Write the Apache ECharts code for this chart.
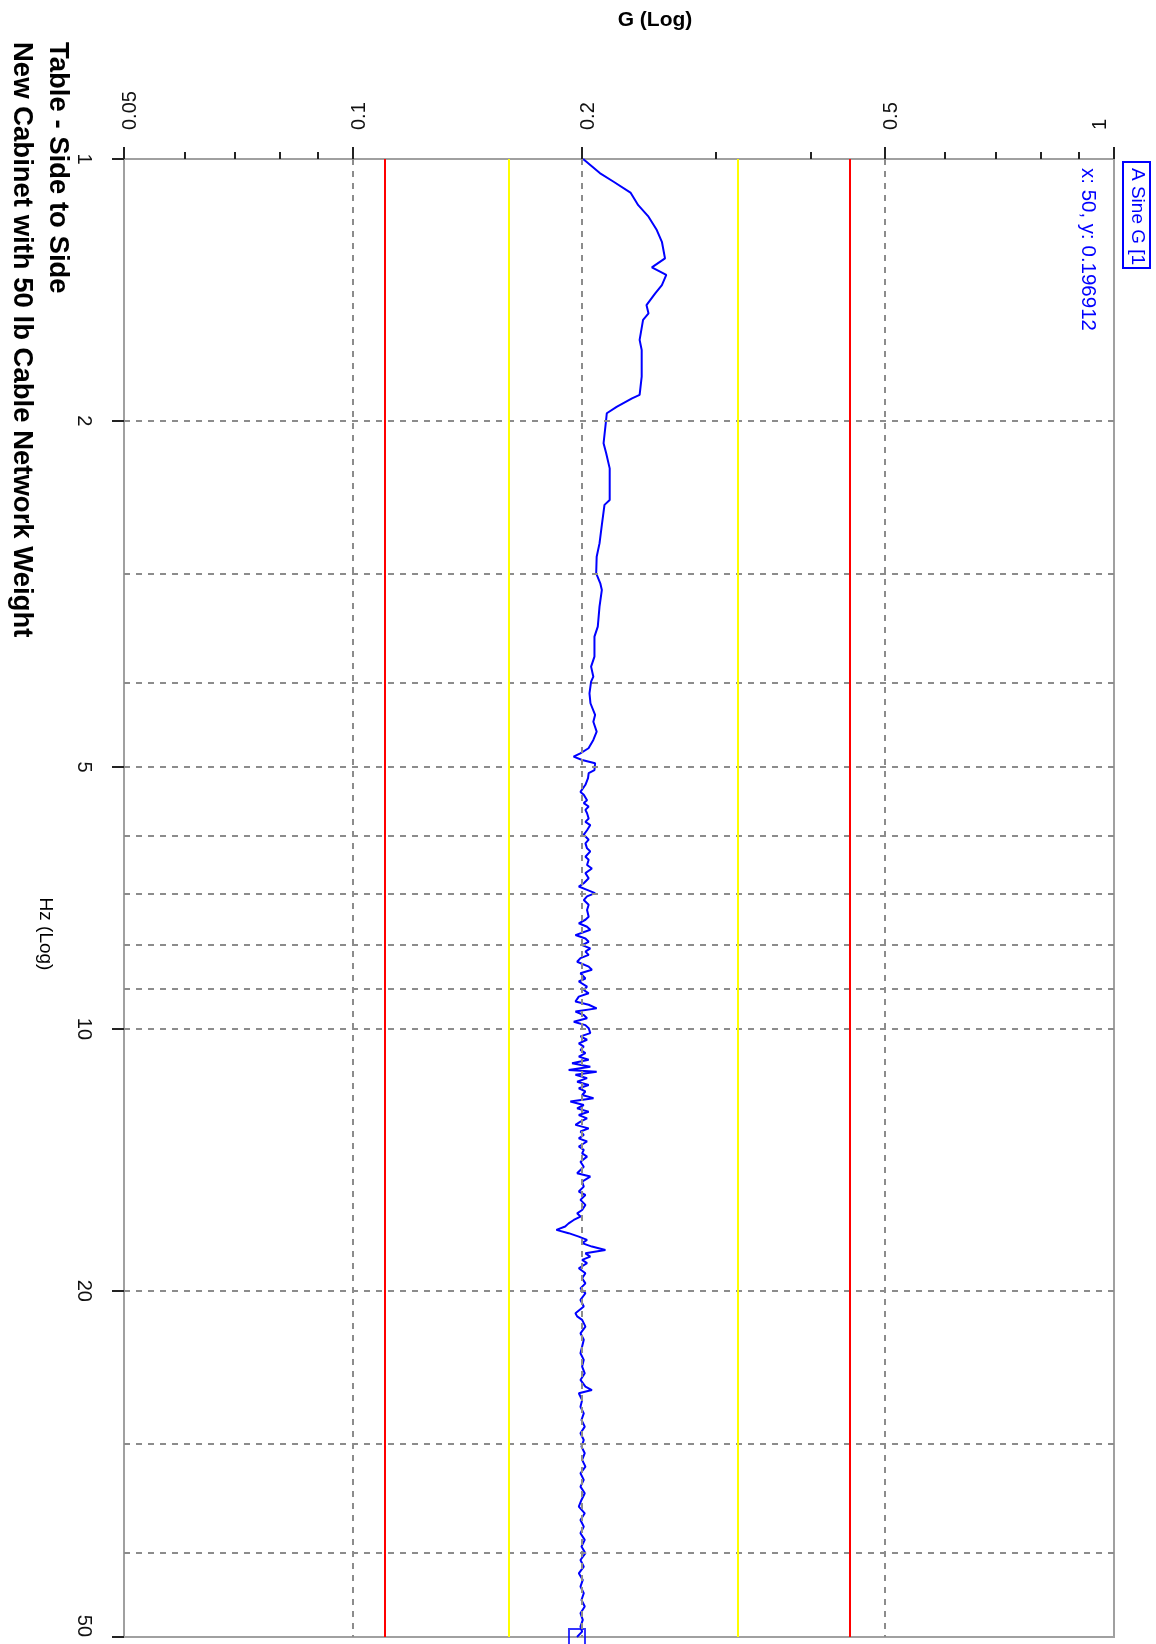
<!DOCTYPE html>
<html>
<head>
<meta charset="utf-8">
<script src="https://cdn.jsdelivr.net/npm/echarts@6/dist/echarts.min.js"></script>
<style>
  html, body { margin: 0; padding: 0; background: #ffffff; }
  #chart { width: 1156px; height: 1644px; }
</style>
</head>
<body>
<div id="chart"></div>
<script>
// ---- Text ----
const titleLines = ['Table - Side to Side', 'New Cabinet with 50 lb Cable Network Weight'];
const gAxisName = 'G (Log)';
const hzAxisName = 'Hz (Log)';
const legendLabel = 'A Sine G [1';

// ---- Axis ticks and grid lines ----
const gMajorTicks = [0.05, 0.1, 0.2, 0.5, 1];
const gMinorTicks = [0.06, 0.07, 0.08, 0.09, 0.3, 0.4, 0.6, 0.7, 0.8, 0.9];
const gGridLines = [0.1, 0.2, 0.5];
const hzMajorTicks = [1, 2, 5, 10, 20, 50];
const hzGridLines = [2, 3, 4, 5, 6, 7, 8, 9, 10, 20, 30, 40];

// ---- Tolerance limits (G) ----
const abortLimits = [0.1125, 0.45];
const alarmLimits = [0.159, 0.316];

// ---- Sine sweep response: [Hz, G] ----
const sweep = [
  [1.00,0.2006],[1.038,0.211],[1.062,0.220],[1.093,0.2315],[1.13,0.237],[1.165,0.2445],[1.207,0.2507],
  [1.245,0.2546],[1.301,0.257],[1.332,0.247],[1.359,0.258],[1.396,0.2546],[1.427,0.2495],[1.472,0.243],
  [1.505,0.2445],[1.531,0.2405],[1.614,0.238],[1.658,0.2395],[1.779,0.2395],[1.867,0.238],[1.884,0.2326],
  [1.927,0.222],[1.960,0.2155],[1.992,0.2151],[2.122,0.2134],[2.179,0.2151],[2.268,0.2174],[2.466,0.2174],
  [2.498,0.2140],[2.634,0.2123],[2.766,0.2108],[2.866,0.2090],[2.994,0.2087],[3.074,0.2113],[3.129,0.2123],
  [3.270,0.2108],[3.448,0.2097],[3.54,0.2076],[3.733,0.2076],[3.833,0.2055],[3.936,0.2069],[3.989,0.2055],
  [4.113,0.2045],[4.223,0.2051],[4.356,0.2080],[4.435,0.2069],[4.553,0.2090],[4.653,0.2069],[4.757,0.2039],
  [4.821,0.1989],[4.864,0.1949],[4.907,0.2000],[4.95,0.208],
  [5.04,0.2076],[5.08,0.204],[5.15,0.2036],[5.24,0.202],[5.34,0.199],[5.38,0.201],[5.46,0.203],[5.50,0.201],
  [5.55,0.204],[5.60,0.202],[5.65,0.203],[5.73,0.204],[5.78,0.202],[5.83,0.205],[5.91,0.203],[5.98,0.201],
  [6.06,0.204],[6.12,0.202],[6.20,0.203],[6.25,0.205],[6.34,0.202],[6.39,0.204],[6.48,0.203],[6.54,0.206],
  [6.62,0.202],[6.71,0.204],[6.80,0.201],[6.86,0.198],[6.92,0.203],[6.98,0.208],[7.04,0.203],[7.11,0.201],
  [7.20,0.204],[7.30,0.203],[7.43,0.204],[7.49,0.202],[7.56,0.198],[7.63,0.203],[7.69,0.205],[7.80,0.196],
  [7.87,0.202],[7.94,0.204],[8.01,0.200],[8.08,0.205],[8.15,0.202],[8.22,0.204],[8.29,0.199],[8.37,0.197],
  [8.48,0.204],[8.55,0.206],[8.63,0.199],[8.75,0.202],[8.82,0.198],[8.94,0.203],[9.02,0.201],[9.10,0.204],
  [9.18,0.198],[9.30,0.196],[9.38,0.204],[9.47,0.209],[9.55,0.196],[9.64,0.201],[9.72,0.203],[9.81,0.195],
  [9.90,0.202],[9.98,0.204],
  [10.11,0.205],[10.20,0.199],[10.29,0.203],[10.39,0.198],[10.48,0.201],[10.57,0.199],[10.66,0.202],
  [10.76,0.198],[10.85,0.204],[10.95,0.194],[11.05,0.205],[11.15,0.192],[11.20,0.209],[11.29,0.196],
  [11.39,0.203],[11.50,0.197],[11.60,0.204],[11.70,0.198],[11.80,0.202],[11.91,0.200],[12.01,0.207],
  [12.12,0.193],[12.23,0.201],[12.34,0.197],[12.45,0.204],[12.56,0.198],[12.67,0.203],[12.78,0.199],
  [12.89,0.196],[13.01,0.204],[13.12,0.199],[13.24,0.201],[13.36,0.198],[13.47,0.203],[13.65,0.198],
  [13.77,0.201],[13.90,0.200],[14.02,0.203],[14.21,0.199],[14.40,0.201],[14.65,0.197],[14.78,0.205],
  [14.98,0.200],[15.18,0.201],[15.38,0.198],[15.52,0.202],[15.72,0.199],[15.93,0.202],[16.15,0.200],
  [16.29,0.197],[16.43,0.199],[16.58,0.195],[16.73,0.192],[16.87,0.190],[17.02,0.185],[17.17,0.192],
  [17.33,0.198],[17.48,0.203],[17.63,0.200],[17.79,0.206],[17.95,0.2146],[18.11,0.202],[18.27,0.205],
  [18.43,0.200],[18.59,0.203],[18.84,0.198],[19.09,0.202],[19.35,0.200],[19.61,0.202],[19.87,0.199],
  [20.13,0.202],
  [20.49,0.199],[20.85,0.201],[21.22,0.196],[21.40,0.197],[21.60,0.200],[21.99,0.202],[22.38,0.199],
  [22.77,0.201],[23.18,0.200],[23.59,0.199],[24.01,0.201],[24.44,0.200],[24.88,0.2016],[25.32,0.199],
  [25.77,0.202],[26.01,0.206],[26.23,0.198],[26.70,0.200],[27.18,0.199],[27.66,0.201],[28.15,0.1996],
  [28.65,0.2016],[29.16,0.199],[29.68,0.201],[30.21,0.1996],[30.74,0.2016],[31.29,0.200],[31.85,0.202],
  [32.42,0.199],[32.99,0.201],[33.58,0.199],[34.18,0.2016],[34.79,0.1996],[35.41,0.198],[36.04,0.2016],
  [36.68,0.199],[37.33,0.201],[38.00,0.199],[38.67,0.2016],[39.36,0.1996],[40.06,0.202],[40.78,0.199],
  [41.50,0.201],[42.24,0.198],[42.99,0.2004],[43.75,0.199],[44.53,0.201],[45.33,0.1996],[46.13,0.2016],
  [46.95,0.199],[47.79,0.2004],[48.64,0.199],[49.30,0.200],[50,0.196912]
];

// ---- Chart ----
const FONT = 'Arial, "Liberation Sans", Helvetica, sans-serif';
const BLUE = '#0000ff';
const GRID_GRAY = '#8c8c8c';
const AXIS_GRAY = '#a0a0a0';
const ROT = -Math.PI / 2; // text turned clockwise, reading top to bottom
const LABEL_SIZE = 20;

const lastPoint = sweep[sweep.length - 1];
const readout = 'x: ' + lastPoint[0] + ', y: ' + lastPoint[1];
const fmt = v => String(+Number(v).toPrecision(3));
const gMax = gMajorTicks[gMajorTicks.length - 1];
// the top-right G label is pulled back inside the plot edge
const gLabel = v => {
  const s = fmt(v);
  return Math.abs(v - gMax) < 1e-9 ? '{edge|' + s + '}' : s;
};

const chart = echarts.init(document.getElementById('chart'), null, { renderer: 'canvas' });

function vText(text, x, y, font, color, align) {
  return {
    type: 'text', x: x, y: y, rotation: ROT, silent: true,
    style: {
      text: text, font: font, fill: color,
      align: align || 'left', verticalAlign: 'middle',
      textAlign: align || 'left', textVerticalAlign: 'middle'
    }
  };
}

const option = {
  animation: false,
  backgroundColor: '#ffffff',
  textStyle: { fontFamily: FONT },
  grid: {
    left: 124, top: 159, right: 42, bottom: 7,
    show: true, borderColor: AXIS_GRAY, borderWidth: 2, backgroundColor: 'transparent',
    containLabel: false, outerBoundsMode: 'none'
  },
  xAxis: [
    {
      type: 'log', logBase: 10, min: 0.05, max: 1, position: 'top', gridIndex: 0,
      axisLine: { show: true, lineStyle: { color: AXIS_GRAY, width: 2 } },
      axisTick: { show: true, customValues: gMajorTicks, length: 12, lineStyle: { color: '#222', width: 2 } },
      axisLabel: {
        show: true, customValues: gMajorTicks, rotate: -90, margin: 29,
        color: '#111', fontSize: LABEL_SIZE, fontFamily: FONT, formatter: gLabel,
        padding: [13, 0, 0, 0],
        rich: { edge: { fontSize: LABEL_SIZE, fontFamily: FONT, color: '#111', padding: [0, 0, 40, 0] } },
        showMinLabel: true, showMaxLabel: true, hideOverlap: false
      },
      splitLine: { show: false }, minorTick: { show: false }
    },
    {
      type: 'log', logBase: 10, min: 0.05, max: 1, position: 'top', gridIndex: 0,
      axisLine: { show: false },
      axisTick: { show: true, customValues: gMinorTicks, length: 7, lineStyle: { color: '#222', width: 2 } },
      axisLabel: { show: false },
      splitLine: { show: false }
    }
  ],
  yAxis: [
    {
      type: 'log', logBase: 10, min: 1, max: 50, inverse: true, position: 'left', gridIndex: 0,
      axisLine: { show: true, lineStyle: { color: AXIS_GRAY, width: 2 } },
      axisTick: { show: true, customValues: hzMajorTicks, length: 12, lineStyle: { color: '#222', width: 2 } },
      axisLabel: {
        show: true, customValues: hzMajorTicks, rotate: -90, margin: 30,
        color: '#111', fontSize: LABEL_SIZE, fontFamily: FONT, formatter: fmt,
        alignMaxLabel: 'right',
        showMinLabel: true, showMaxLabel: true, hideOverlap: false
      },
      splitLine: { show: false }
    }
  ],
  series: [
    {
      name: 'grid', type: 'line', xAxisIndex: 0, yAxisIndex: 0, data: [], silent: true, z: 1,
      markLine: {
        silent: true, symbol: 'none', animation: false, label: { show: false },
        lineStyle: { color: GRID_GRAY, type: [6, 6], width: 2 },
        data: gGridLines.map(v => ({ xAxis: v })).concat(hzGridLines.map(v => ({ yAxis: v })))
      }
    },
    {
      name: 'limits', type: 'line', xAxisIndex: 0, yAxisIndex: 0, data: [], silent: true, z: 2,
      markLine: {
        silent: true, symbol: 'none', animation: false, label: { show: false },
        data: abortLimits.map(v => ({ xAxis: v, lineStyle: { color: '#ff0000', type: 'solid', width: 2 } }))
          .concat(alarmLimits.map(v => ({ xAxis: v, lineStyle: { color: '#ffff00', type: 'solid', width: 2 } })))
      }
    },
    {
      name: legendLabel, type: 'line', xAxisIndex: 0, yAxisIndex: 0, z: 3,
      data: sweep.map(p => [p[1], p[0]]),
      showSymbol: false, symbol: 'none', smooth: false,
      lineStyle: { color: BLUE, width: 2 }
    },
    {
      name: 'cursor', type: 'scatter', xAxisIndex: 0, yAxisIndex: 0, z: 4, silent: true,
      data: [[lastPoint[1], lastPoint[0]]],
      symbol: 'rect', symbolSize: 16,
      itemStyle: { color: 'rgba(0,0,0,0)', borderColor: BLUE, borderWidth: 2 }
    }
  ],
  graphic: [
    vText(titleLines[0], 58, 42, 'bold 27.5px ' + FONT, '#000'),
    vText(titleLines[1], 22, 42, 'bold 27.5px ' + FONT, '#000'),
    {
      type: 'text', x: 655, y: 20, silent: true,
      style: { text: gAxisName, font: 'bold 21px ' + FONT, fill: '#000',
        align: 'center', verticalAlign: 'middle', textAlign: 'center', textVerticalAlign: 'middle' }
    },
    vText(hzAxisName, 45, 934, '19px ' + FONT, '#000', 'center'),
    {
      type: 'rect', silent: true,
      shape: { x: 1123, y: 162, width: 27, height: 106 },
      style: { fill: '#ffffff', stroke: BLUE, lineWidth: 2 }
    },
    vText(legendLabel, 1137, 168, '19px ' + FONT, BLUE),
    vText(readout, 1088, 168, '20.5px ' + FONT, BLUE)
  ]
};

chart.setOption(option);
</script>
</body>
</html>
